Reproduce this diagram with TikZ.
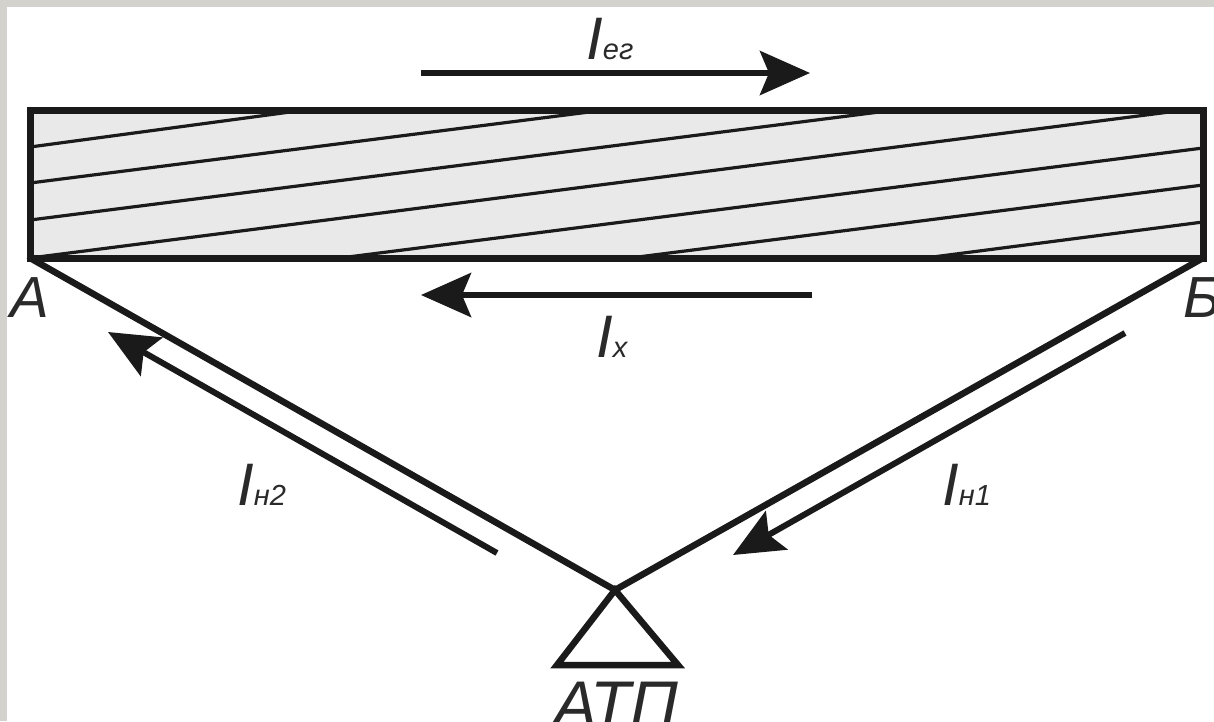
\documentclass[tikz,border=0pt]{standalone}
\usepackage{fontspec}
\setmainfont{Liberation Sans}
\usetikzlibrary{arrows.meta}
\definecolor{frameg}{HTML}{D3D2CD}
\definecolor{hatchg}{HTML}{E9E9E9}
\definecolor{inkk}{HTML}{1A1A1A}
\definecolor{textk}{HTML}{2A2A2A}
\newcommand{\lbl}[2]{\fontsize{60}{60}\selectfont\itshape #1\fontsize{29}{29}\selectfont #2}
\tikzset{
  wire/.style={draw=inkk,line width=6.5pt,line cap=round,line join=miter},
  hatch/.style={draw=inkk,line width=3.2pt},
  current/.style={draw=inkk,line width=6pt,-{Stealth[length=50pt,width=44pt,inset=9pt]}},
  txt/.style={inner sep=0pt,text=textk,font=\fontsize{58}{58}\selectfont\itshape}
}
\begin{document}
\begin{tikzpicture}[x=1pt,y=-1pt]
\useasboundingbox (0,0) rectangle (1214,721);
\clip (0,0) rectangle (1214,721);
\fill[frameg] (0,0) rectangle (1214,721);
\fill[white] (7,7) rectangle (1214,721);
% corners
\coordinate (tl) at (30,110);
\coordinate (tr) at (1203,110);
\coordinate (A) at (30,258);
\coordinate (B) at (1203,258);
\coordinate (P) at (615,590);
\coordinate (PL) at (557,665);
\coordinate (PR) at (678,665);
\fill[hatchg] (tl) rectangle (B);
% hatching
\foreach \xa/\ya/\xb/\yb in {30/147/305/110,30/183/605/110,30/220/895/110,30/258/1185/110,340/258/1203/148,630/258/1203/185,925/258/1203/222}
  \draw[hatch] (\xa,\ya) -- (\xb,\yb);
\draw[wire,line cap=butt,line width=7pt] (tl) -- (tr) -- (B) -- (A) -- cycle;
% feeders
\draw[wire] (A) -- (P) -- (B);
\draw[wire,line cap=butt] (P) -- (PR) -- (PL) -- cycle;
% current arrows
\coordinate (c1s) at (421,73);  \coordinate (c1e) at (810,73);
\coordinate (c2s) at (812,295); \coordinate (c2e) at (421,295);
\coordinate (c3s) at (497,553); \coordinate (c3e) at (108,332);
\coordinate (c4s) at (1125,333);\coordinate (c4e) at (733,555);
\draw[current] (c1s) -- (c1e);
\draw[current] (c2s) -- (c2e);
\draw[current] (c3s) -- (c3e);
\draw[current] (c4s) -- (c4e);
% labels
\node[txt,anchor=base west] (leg) at (586,59) {\lbl{I}{ег}};
\node[txt,anchor=base west] (lx) at (596,357) {\lbl{I}{х}};
\node[txt,anchor=base west] (ln2) at (237,505) {\lbl{I}{н2}};
\node[txt,anchor=base west] (ln1) at (942,505) {\lbl{I}{н1}};
\node[txt,anchor=base west] (la) at (10,317) {А};
\node[txt,anchor=base west] (lb) at (1183,317) {Б};
\node[txt,anchor=base west,font=\fontsize{66}{66}\selectfont\itshape] (latp) at (553,727) {АТП};
\end{tikzpicture}
\end{document}
